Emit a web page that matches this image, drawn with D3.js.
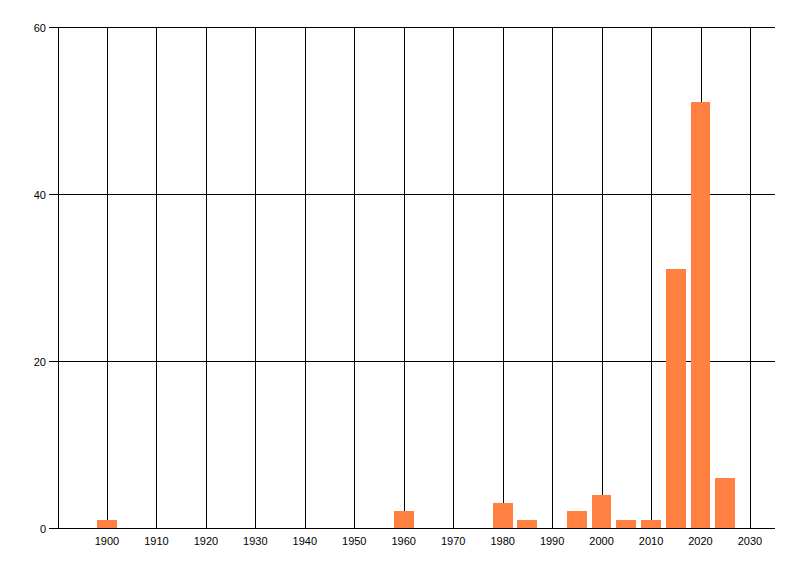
<!DOCTYPE html>
<html><head><meta charset="utf-8">
<script src="https://cdn.jsdelivr.net/npm/d3@7"></script>
<style>body{margin:0;background:#fff}svg{display:block}text{font-family:"Liberation Sans",Arial,sans-serif;font-size:11px;fill:#000}</style>
</head><body><svg id="c" width="800" height="576"></svg>
<script>
const years = [1900, 1960, 1980, 1985, 1995, 2000, 2005, 2010, 2015, 2020, 2025];
const counts = [1, 2, 3, 1, 2, 4, 1, 1, 31, 51, 6];
const xTicks = [1900, 1910, 1920, 1930, 1940, 1950, 1960, 1970, 1980, 1990, 2000, 2010, 2020, 2030];
const yTicks = [0, 20, 40, 60];
const barSpan = 4;

const svg = d3.select("#c");
const x = d3.scaleLinear().domain([1890, 2035]).range([57.5, 774.7]);
const y = d3.scaleLinear().domain([0, 60]).range([528, 27]);
const r = v => Math.round(v) + 0.5;

// vertical gridlines
svg.append("g").selectAll("line").data([1890].concat(xTicks)).join("line")
  .attr("x1", d => r(x(d))).attr("x2", d => r(x(d)))
  .attr("y1", y(60)).attr("y2", y(0))
  .attr("stroke", "#000").attr("stroke-width", 1);

// horizontal gridlines + ticks
svg.append("g").selectAll("line").data(yTicks).join("line")
  .attr("x1", 49).attr("x2", 775)
  .attr("y1", d => r(y(d))).attr("y2", d => r(y(d)))
  .attr("stroke", "#000").attr("stroke-width", 1);

// y labels
svg.append("g").selectAll("text").data(yTicks).join("text")
  .attr("x", 46).attr("y", d => r(y(d)))
  .attr("text-anchor", "end").attr("dominant-baseline", "central")
  .text(d => d);

// x labels
svg.append("g").selectAll("text").data(xTicks).join("text")
  .attr("x", d => x(d)).attr("y", 541)
  .attr("text-anchor", "middle").attr("dominant-baseline", "central")
  .text(d => d);

// bars
svg.append("g").selectAll("rect").data(years.map((yr, i) => ({yr, v: counts[i]}))).join("rect")
  .attr("x", d => Math.round(x(d.yr - barSpan / 2)))
  .attr("width", d => Math.round(x(d.yr + barSpan / 2)) - Math.round(x(d.yr - barSpan / 2)))
  .attr("y", d => Math.round(y(d.v)))
  .attr("height", d => 528 - Math.round(y(d.v)))
  .attr("fill", "#ff8040");
</script></body></html>
